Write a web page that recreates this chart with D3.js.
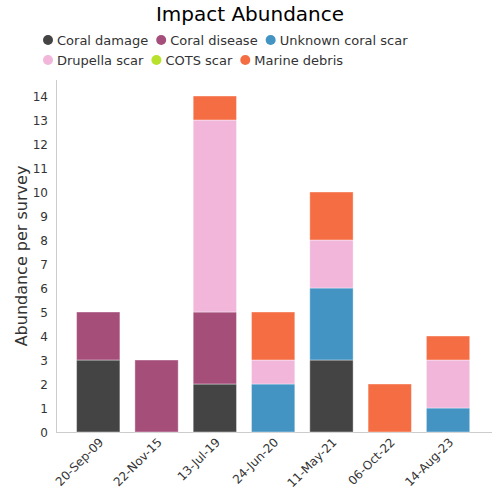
<!DOCTYPE html>
<html><head><meta charset="utf-8">
<script src="https://cdn.jsdelivr.net/npm/d3@7"></script>
<style>body{margin:0;background:#fff;font-family:"DejaVu Sans",sans-serif;}</style>
</head><body><svg id="c" width="500" height="500"></svg>
<script>
const categories = ["20-Sep-09","22-Nov-15","13-Jul-19","24-Jun-20","11-May-21","06-Oct-22","14-Aug-23"];
const seriesNames = ["Coral damage","Coral disease","Unknown coral scar","Drupella scar","COTS scar","Marine debris"];
const seriesColors = ["#444444","#a54e7a","#4393c3","#f1b6da","#b8e12b","#f46d43"];
const coralDamage   = [3,0,2,0,3,0,0];
const coralDisease  = [2,3,3,0,0,0,0];
const unknownScar   = [0,0,0,2,3,0,1];
const drupellaScar  = [0,0,8,1,2,0,2];
const cotsScar      = [0,0,0,0,0,0,0];
const marineDebris  = [0,0,1,2,2,2,1];
const yTicks = [0,1,2,3,4,5,6,7,8,9,10,11,12,13,14];

const seriesVals = [coralDamage,coralDisease,unknownScar,drupellaScar,cotsScar,marineDebris];
const rows = categories.map((c,i)=>{const o={cat:c};seriesNames.forEach((s,j)=>o[s]=seriesVals[j][i]);return o;});
const stack = d3.stack().keys(seriesNames)(rows);

const svg = d3.select("#c");
const x = d3.scaleBand().domain(categories).range([69,477.3]).paddingInner(0.257).paddingOuter(0.13);
const y = d3.scaleLinear().domain([0,14.5]).range([432,84]);

svg.append("text").attr("x",250).attr("y",21).attr("text-anchor","middle")
  .attr("font-size",20).attr("fill","#000").text("Impact Abundance");

// legend
const legRows = [[0,1,2],[3,4,5]];
legRows.forEach((r,ri)=>{
  let xx = 43;
  r.forEach(j=>{
    const g = svg.append("g");
    g.append("circle").attr("cx",xx+5).attr("cy",40+ri*20).attr("r",5).attr("fill",seriesColors[j]);
    const t = g.append("text").attr("x",xx+14).attr("y",45+ri*20).attr("font-size",13).attr("fill","#333").text(seriesNames[j]);
    xx += 14 + t.node().getComputedTextLength() + 8;
  });
});

// axes
svg.append("line").attr("x1",56.5).attr("x2",56.5).attr("y1",80).attr("y2",432).attr("stroke","#ccc");
svg.append("line").attr("x1",56).attr("x2",492).attr("y1",432.5).attr("y2",432.5).attr("stroke","#ccc");
svg.selectAll(".yt").data(yTicks).enter().append("text").attr("x",48).attr("y",d=>y(d)+4.5)
  .attr("text-anchor","end").attr("font-size",12).attr("fill","#333").text(d=>d);
svg.append("text").attr("transform","translate(27,256) rotate(-90)").attr("text-anchor","middle")
  .attr("font-size",16).attr("fill","#333").text("Abundance per survey");

svg.selectAll(".xt").data(categories).enter().append("text")
  .attr("transform",d=>`translate(${x(d)+x.bandwidth()/2+6},443) rotate(-45)`)
  .attr("text-anchor","end").attr("font-size",12).attr("fill","#333").text(d=>d);

// bars
stack.forEach((s,j)=>{
  svg.append("g").selectAll("rect").data(s.filter(d=>d[1]-d[0]>0)).enter().append("rect")
    .attr("x",d=>x(d.data.cat)).attr("width",x.bandwidth())
    .attr("y",d=>y(d[1])).attr("height",d=>y(d[0])-y(d[1]))
    .attr("fill",seriesColors[j]).attr("stroke","#fff").attr("stroke-width",1).attr("stroke-opacity",0.4);
});
</script></body></html>
